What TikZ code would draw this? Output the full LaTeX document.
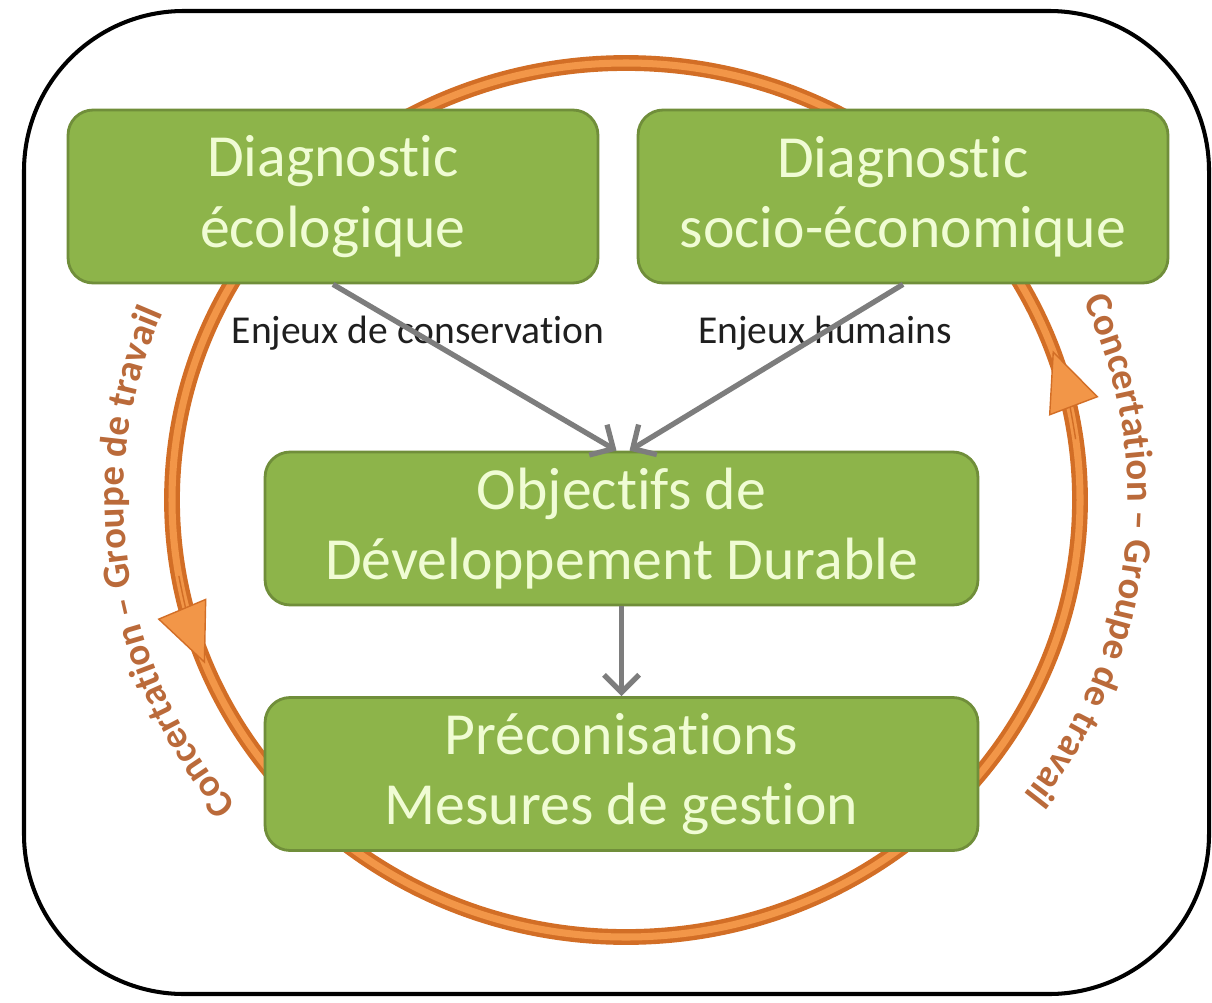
\documentclass[tikz,border=0pt]{standalone}
\usepackage{fontspec}
\setmainfont{Carlito}[Ligatures=NoCommon]
\usetikzlibrary{arrows.meta,decorations.text}
\definecolor{boxgreen}{RGB}{141,180,74}
\definecolor{boxedge}{RGB}{112,142,58}
\definecolor{boxtext}{RGB}{240,252,212}
\definecolor{ringdark}{RGB}{210,110,38}
\definecolor{ringlight}{RGB}{242,150,72}
\definecolor{ringtext}{RGB}{186,106,58}
\definecolor{arrowgray}{RGB}{125,125,125}
\newcommand\ringfont{\bfseries\fontsize{22}{22}\selectfont\color{ringtext}}

\tikzset{
  greenbox/.style={draw=boxedge, line width=1.6pt, fill=boxgreen, rounded corners=0.5cm,
    text=boxtext, align=center, inner sep=0pt, font=\fontsize{34}{40}\selectfont},
  enjeu/.style={text=black!88, font=\fontsize{22.5}{26}\selectfont},
  flow/.style={draw=arrowgray, line width=3pt, -{Straight Barb[length=10pt,width=20pt]}},
  ringtip/.style={draw=ringdark, line width=0.8pt, -{Triangle[length=34pt,width=30pt,fill=ringlight]}},
}

\begin{document}
\begin{tikzpicture}[x=0.02cm,y=0.02cm]
\useasboundingbox (0,0) rectangle (1212,1002);

\def\rx{454}
\def\ry{437}
\def\tx{502}
\def\ty{485}

% Frame
\draw[line width=2.3pt, rounded corners=3.2cm] (24,991) rectangle (1209,8);

% Ring
\coordinate (c) at (626,502);
\draw[ringdark, line width=9pt] (c) ellipse [x radius=\rx, y radius=\ry];
\draw[ringlight, line width=4pt] (c) ellipse [x radius=\rx, y radius=\ry];

% Ring arrow heads
\draw[ringtip] ([shift={({\rx*cos(190)},{\ry*sin(190)})}]c) arc[start angle=190, end angle=202, x radius=\rx, y radius=\ry];
\draw[ringtip] ([shift={({\rx*cos(8)},{\ry*sin(8)})}]c) arc[start angle=8, end angle=20, x radius=\rx, y radius=\ry];

% Text round the ring
\path[decorate, decoration={text along path, text align=center,
    text={|\ringfont|Concertation – Groupe de travail}}]
  ([shift={({\tx*cos(253)},{\ty*sin(253)})}]c) arc[start angle=253, end angle=123, x radius=\tx, y radius=\ty];
\path[decorate, decoration={text along path, text align=center,
    text={|\ringfont|Concertation – Groupe de travail}}]
  ([shift={({\tx*cos(56)},{\ty*sin(56)})}]c) arc[start angle=56, end angle=-69, x radius=\tx, y radius=\ty];

% Boxes
\node[greenbox, minimum width=10.6cm, minimum height=3.46cm] (eco) at (333,805.5) {Diagnostic\\écologique};
\node[greenbox, minimum width=10.6cm, minimum height=3.46cm] (socio) at (903,805.5) {Diagnostic\\socio-économique};
\node[greenbox, minimum width=14.26cm, minimum height=3.06cm] (obj) at (621.5,473.5) {Objectifs de\\Développement Durable};
\node[greenbox, minimum width=14.26cm, minimum height=3.06cm] (preco) at (621.5,228) {Préconisations\\Mesures de gestion};

% Labels
\node[enjeu] (conserv) at (418,669) {Enjeux de conservation};
\node[enjeu] (humain) at (825,669) {Enjeux humains};

% Arrows
\draw[flow] (eco.south) -- ([xshift=-0.1cm]obj.north);
\draw[flow] (socio.south) -- ([xshift=0.16cm]obj.north);
\draw[flow] (obj.south) -- (preco.north);

\end{tikzpicture}
\end{document}
